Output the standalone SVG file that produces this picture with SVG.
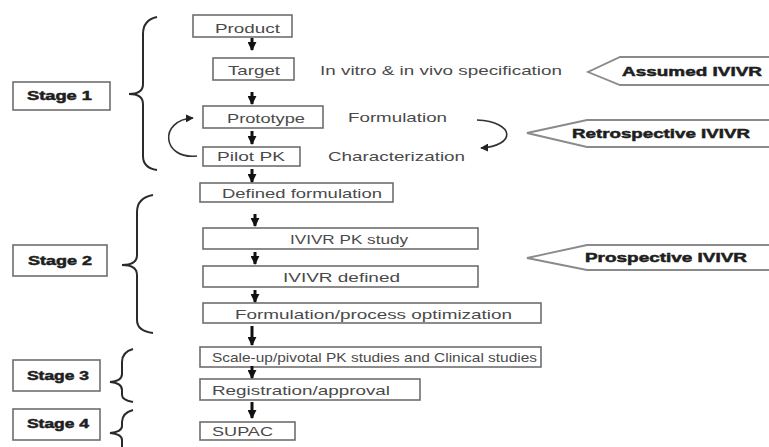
<svg xmlns="http://www.w3.org/2000/svg" width="769" height="447" viewBox="0 0 769 447">
<defs>
<style>
.box{fill:#fff;stroke:#6e6e6e;stroke-width:1.6}
.t{font-family:"Liberation Sans",Arial,sans-serif;font-size:13px;fill:#4a4a4a}
.s{font-family:"Liberation Sans",Arial,sans-serif;font-size:12.5px;font-weight:bold;fill:#1e1e1e;stroke:#1e1e1e;stroke-width:0.5}
.c{font-family:"Liberation Sans",Arial,sans-serif;font-size:13px;font-weight:bold;fill:#1e1e1e;stroke:#1e1e1e;stroke-width:0.5}
.br{fill:none;stroke:#2a2a2a;stroke-width:2}
.ar{stroke:#111;stroke-width:3;fill:none}
.cv{stroke:#333;stroke-width:1.6;fill:none}
.co{fill:#fff;stroke:#8a8a8a;stroke-width:1.8}
</style>
<marker id="ah" viewBox="0 0 10 10" refX="9" refY="5" markerWidth="9" markerHeight="9" markerUnits="userSpaceOnUse" orient="auto"><path d="M0,0 L10,5 L0,10 Z" fill="#111"/></marker>
<marker id="ahs" viewBox="0 0 10 10" refX="9" refY="5" markerWidth="8" markerHeight="8" markerUnits="userSpaceOnUse" orient="auto"><path d="M0,0 L10,5 L0,10 Z" fill="#222"/></marker>
</defs>
<rect width="769" height="447" fill="#fff"/>

<g id="stage1"><rect class="box" x="13" y="82" width="97" height="28"/><text class="s" x="27" y="100" textLength="65" lengthAdjust="spacingAndGlyphs">Stage 1</text></g>
<g id="stage2"><rect class="box" x="13" y="245" width="94" height="31"/><text class="s" x="28" y="265" textLength="64" lengthAdjust="spacingAndGlyphs">Stage 2</text></g>
<g id="stage3"><rect class="box" x="13" y="360" width="87" height="31"/><text class="s" x="27" y="380" textLength="62" lengthAdjust="spacingAndGlyphs">Stage 3</text></g>
<g id="stage4"><rect class="box" x="13" y="409" width="87" height="31"/><text class="s" x="27" y="428" textLength="62" lengthAdjust="spacingAndGlyphs">Stage 4</text></g>

<g id="braces">
<path class="br" d="M157,17 Q143,20 143,34 L143,84 Q143,94 129,94 Q143,94 143,104 L143,156 Q143,168 157,170"/>
<path class="br" d="M153,195 Q137,198 137,212 L137,255 Q137,265 122,265 Q137,265 137,275 L137,320 Q137,331 153,333"/>
<path class="br" d="M133,349 Q122,352 122,362 L122,374 Q122,381 110,382 Q122,383 122,390 L122,395 Q122,400 133,402"/>
<path class="br" d="M133,410 Q122,413 122,422 L122,426 Q122,432 110,433 Q122,434 122,440 L122,450"/>
</g>

<g id="product"><rect class="box" x="193" y="15" width="99" height="22"/><text class="t" x="215" y="33" textLength="65" lengthAdjust="spacingAndGlyphs">Product</text></g>
<g id="target"><rect class="box" x="213" y="58" width="81" height="22"/><text class="t" x="228" y="75" textLength="52" lengthAdjust="spacingAndGlyphs">Target</text></g>
<g id="spec"><text class="t" x="320" y="75" textLength="242" lengthAdjust="spacingAndGlyphs">In vitro &amp; in vivo specification</text></g>
<g id="prototype"><rect class="box" x="203" y="106" width="120" height="22"/><text class="t" x="227" y="123" textLength="78" lengthAdjust="spacingAndGlyphs">Prototype</text></g>
<g id="formulation"><text class="t" x="348" y="122" textLength="99" lengthAdjust="spacingAndGlyphs">Formulation</text></g>
<g id="pilotpk"><rect class="box" x="203" y="147" width="97" height="19"/><text class="t" x="217" y="161" textLength="68" lengthAdjust="spacingAndGlyphs">Pilot PK</text></g>
<g id="characterization"><text class="t" x="328" y="161" textLength="137" lengthAdjust="spacingAndGlyphs">Characterization</text></g>
<g id="defined"><rect class="box" x="200" y="183" width="193" height="19"/><text class="t" x="222" y="198" textLength="160" lengthAdjust="spacingAndGlyphs">Defined formulation</text></g>
<g id="pkstudy"><rect class="box" x="203" y="228" width="275" height="21"/><text class="t" x="290" y="244" textLength="118" lengthAdjust="spacingAndGlyphs">IVIVR PK study</text></g>
<g id="ivivrdefined"><rect class="box" x="203" y="266" width="275" height="21"/><text class="t" x="283" y="282" textLength="117" lengthAdjust="spacingAndGlyphs">IVIVR defined</text></g>
<g id="optimization"><rect class="box" x="203" y="303" width="338" height="20"/><text class="t" x="235" y="319" textLength="277" lengthAdjust="spacingAndGlyphs">Formulation/process optimization</text></g>
<g id="scaleup"><rect class="box" x="200" y="347" width="341" height="20"/><text class="t" x="212" y="362" textLength="325" lengthAdjust="spacingAndGlyphs">Scale-up/pivotal PK studies and Clinical studies</text></g>
<g id="registration"><rect class="box" x="200" y="379" width="220" height="21"/><text class="t" x="212" y="395" textLength="178" lengthAdjust="spacingAndGlyphs">Registration/approval</text></g>
<g id="supac"><rect class="box" x="200" y="422" width="95" height="18"/><text class="t" x="212" y="436" textLength="61" lengthAdjust="spacingAndGlyphs">SUPAC</text></g>

<g id="assumed"><path class="co" d="M772,57 L620,57 L588,72 L620,85 L772,85"/><text class="c" x="622" y="76" textLength="140" lengthAdjust="spacingAndGlyphs">Assumed IVIVR</text></g>
<g id="retrospective"><path class="co" d="M772,120 L587,120 L527,133 L587,147 L772,147"/><text class="c" x="572" y="138" textLength="178" lengthAdjust="spacingAndGlyphs">Retrospective IVIVR</text></g>
<g id="prospective"><path class="co" d="M772,245 L587,245 L527,258 L587,270 L772,270"/><text class="c" x="585" y="262" textLength="162" lengthAdjust="spacingAndGlyphs">Prospective IVIVR</text></g>

<g id="connectors">
<path class="ar" d="M252,38 L252,50" marker-end="url(#ah)"/>
<path class="ar" d="M252,92 L252,104" marker-end="url(#ah)"/>
<path class="ar" d="M252,131 L252,144" marker-end="url(#ah)"/>
<path class="ar" d="M252,169 L252,182" marker-end="url(#ah)"/>
<path class="ar" d="M255,214 L255,226" marker-end="url(#ah)"/>
<path class="ar" d="M255,252 L255,264" marker-end="url(#ah)"/>
<path class="ar" d="M255,290 L255,302" marker-end="url(#ah)"/>
<path class="ar" d="M252,326 L252,345" marker-end="url(#ah)"/>
<path class="ar" d="M252,366 L252,378" marker-end="url(#ah)"/>
<path class="ar" d="M252,402 L252,418" marker-end="url(#ah)"/>
<path class="cv" d="M197,156 C162,160 158,120 193,118" marker-end="url(#ahs)"/>
<path class="cv" d="M477,120 C516,122 516,146 481,148" marker-end="url(#ahs)"/>
</g>
</svg>
